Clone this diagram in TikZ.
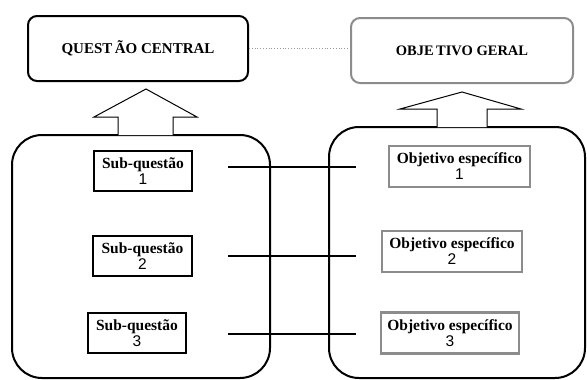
\documentclass[tikz,border=0pt]{standalone}
\usepackage{fontspec}
\setmainfont{Liberation Serif}
\newfontfamily\numfont{Liberation Sans}
\tikzset{
    topbox/.style={draw=black, line width=2pt, rounded corners=9pt, minimum width=220pt, minimum height=65pt, font=\fontsize{15}{17}\selectfont\bfseries},
    graybox/.style={topbox, draw=black!45, font=\fontsize{14.5}{17}\selectfont\bfseries},
    subbox/.style={draw=black, line width=2.4pt, minimum width=98pt, minimum height=40pt, align=center, inner sep=1pt, font=\fontsize{15.5}{16}\selectfont\bfseries},
    objbox/.style={subbox, draw=black!45, line width=2.2pt},
    bigbox/.style={draw=black, line width=2pt, rounded corners=30pt},
    link/.style={draw=black, line width=1.8pt},
    blockarrow/.style={draw=black, line width=1pt, fill=white}
}
\newcommand{\numline}[1]{{\numfont\mdseries #1}}
\begin{document}
\begin{tikzpicture}[x=1pt, y=-1pt]
    \useasboundingbox (0,0) rectangle (587,380);
    % frames
    \draw[bigbox] (12,135) rectangle (270,378);
    \draw[bigbox] (329,127) rectangle (585,378);
    % top boxes
    \node[topbox] (qc) at (138,48.5) {QUEST\,ÃO CENTRAL};
    \node[graybox, minimum width=222pt] (og) at (462,50.5) {OBJE\,TIVO GERAL};
    \draw[draw=black!40, dotted, line width=0.8pt] (qc.east) -- (og.west |- qc.east);
    % block arrows
    \draw[blockarrow] (118,135) -- (118,117) -- (94,117) -- (146,89) -- (197,117) -- (173,117) -- (173,135);
    \draw[blockarrow] (437,127) -- (437,109) -- (400,109) -- (462,92) -- (521,109) -- (487,109) -- (487,127);
    % sub-questions and objectives
    \node[subbox] (sq1) at (143,171) {Sub-questão\\\numline{1}};
    \node[subbox, minimum width=99pt] (sq2) at (142.5,256) {Sub-questão\\\numline{2}};
    \node[subbox] (sq3) at (137,333) {Sub-questão\\\numline{3}};
    \node[objbox, minimum width=141pt, minimum height=41pt] (oe1) at (459.5,166.5) {Objetivo específico\\\numline{1}};
    \node[objbox, minimum width=140pt, minimum height=41pt] (oe2) at (452,251.5) {Objetivo específico\\\numline{2}};
    \node[objbox, minimum width=138pt, minimum height=41pt] (oe3) at (450,333) {Objetivo específico\\\numline{3}};
    % links
    \foreach \i/\y in {1/167, 2/256, 3/334} {
        \coordinate (la\i) at (228,\y);
        \coordinate (lb\i) at (356,\y);
        \draw[link] (la\i) -- (lb\i);
    }
\end{tikzpicture}
\end{document}
